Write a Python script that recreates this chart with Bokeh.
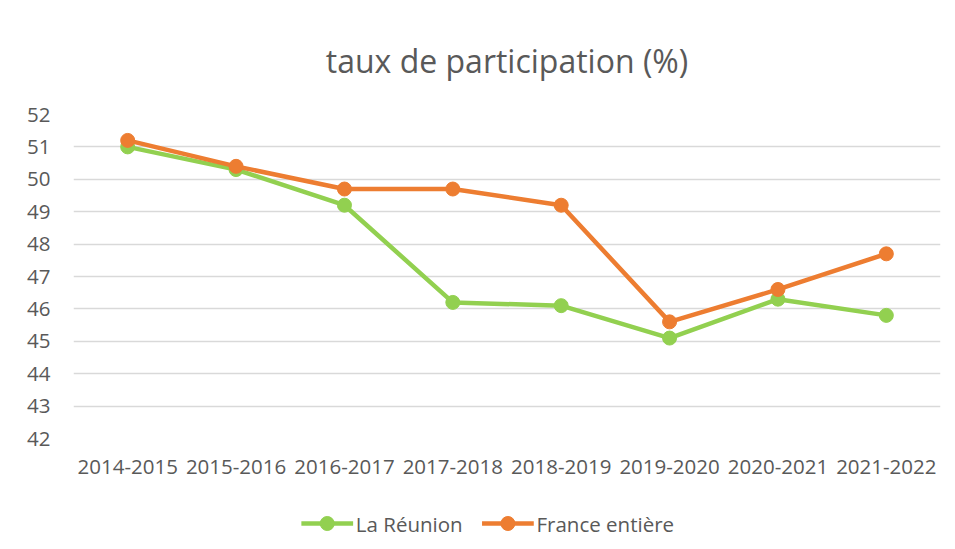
from bokeh.plotting import figure
from bokeh.layouts import column
from bokeh.models import FactorRange, Range1d, FixedTicker
from bokeh.core.properties import value
from bokeh.embed import file_html
from bokeh.resources import INLINE

seasons = ["2014-2015", "2015-2016", "2016-2017", "2017-2018",
           "2018-2019", "2019-2020", "2020-2021", "2021-2022"]
reunion = [51.0, 50.3, 49.2, 46.2, 46.1, 45.1, 46.3, 45.8]
france = [51.2, 50.4, 49.7, 49.7, 49.2, 45.6, 46.6, 47.7]
y_ticks = [42, 43, 44, 45, 46, 47, 48, 49, 50, 51, 52]
series_names = ["La Réunion", "France entière"]

GREEN = "#92D050"
ORANGE = "#ED7D31"
TXT = "#595959"
FONT = "Open Sans"

p = figure(x_range=FactorRange(factors=seasons, range_padding=0),
           y_range=Range1d(42, 52),
           frame_width=867, frame_height=324,
           output_backend="svg", toolbar_location=None,
           min_border_left=73, min_border_right=15,
           min_border_top=114, min_border_bottom=60)

p.title.text = "taux de participation (%)"
p.title.align = "center"
p.title.text_font = FONT
p.title.text_font_size = "32px"
p.title.text_font_style = "normal"
p.title.text_color = TXT
p.title.standoff = 66

p.outline_line_color = None
p.xgrid.grid_line_color = None
p.ygrid.grid_line_color = "#d9d9d9"
p.ygrid.grid_line_width = 1.5
p.yaxis.ticker = FixedTicker(ticks=y_ticks)

for ax in (p.xaxis, p.yaxis):
    ax.axis_line_color = None
    ax.major_tick_line_color = None
    ax.minor_tick_line_color = None
    ax.major_label_text_font = FONT
    ax.major_label_text_font_size = "20.5px"
    ax.major_label_text_color = TXT
p.yaxis.major_label_standoff = 17
p.xaxis.major_label_standoff = 15

p.line(seasons, reunion, line_color=GREEN, line_width=4.5)
p.scatter(seasons, reunion, size=14, fill_color=GREEN, line_color=GREEN)
p.line(seasons, france, line_color=ORANGE, line_width=4.5)
p.scatter(seasons, france, size=14, fill_color=ORANGE, line_color=ORANGE)

# legend strip below the chart (pixel-based layout coordinates)
STRIP_W, STRIP_H = 955, 50
pl = figure(x_range=Range1d(0, STRIP_W), y_range=Range1d(0, STRIP_H),
            width=STRIP_W, height=STRIP_H, output_backend="svg", toolbar_location=None,
            x_axis_type=None, y_axis_type=None,
            min_border_left=0, min_border_right=0, min_border_top=0, min_border_bottom=0)
pl.outline_line_color = None
pl.xgrid.grid_line_color = None
pl.ygrid.grid_line_color = None

key_starts = [251, 450]
KEY_W, GAP, MID = 57, 3, 25
colors = [GREEN, ORANGE]
pl.segment(x0=key_starts, y0=[MID] * 2, x1=[k + KEY_W for k in key_starts], y1=[MID] * 2,
           line_color=colors, line_width=4.5)
pl.scatter(x=[k + KEY_W / 2 for k in key_starts], y=[MID] * 2, size=14,
           fill_color=colors, line_color=colors)
pl.text(x=[k + KEY_W + GAP for k in key_starts], y=[MID] * 2, text=series_names,
        text_font=value(FONT), text_font_size="20.5px", text_color=TXT,
        text_baseline="middle", text_align="left")

layout = column(p, pl, spacing=0)
open("out.html", "w").write(file_html(layout, INLINE))
